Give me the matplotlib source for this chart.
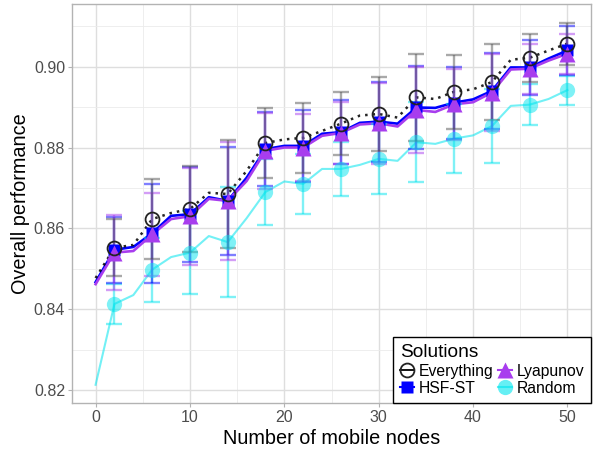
import matplotlib
matplotlib.use("Agg")
import matplotlib.pyplot as plt
from matplotlib.lines import Line2D
from matplotlib.ticker import MultipleLocator

plt.rcParams["font.family"] = ["Liberation Sans", "DejaVu Sans"]

# Mean performance at every second node count
nodes = list(range(0, 51, 2))
everything = [0.8477, 0.8552, 0.8559, 0.8623, 0.8638, 0.8648, 0.8688, 0.8685,
              0.8742, 0.8811, 0.8820, 0.8824, 0.8841, 0.8859, 0.8879, 0.8883,
              0.8874, 0.8924, 0.8920, 0.8938, 0.8944, 0.8962, 0.9017, 0.9022,
              0.9040, 0.9057]
hsf_st = [0.8467, 0.8547, 0.8554, 0.8588, 0.8631, 0.8635, 0.8677, 0.8668,
          0.8725, 0.8796, 0.8804, 0.8804, 0.8834, 0.8838, 0.8861, 0.8864,
          0.8859, 0.8899, 0.8898, 0.8911, 0.8919, 0.8940, 0.8998, 0.8998,
          0.9020, 0.9040]
lyapunov = [0.8462, 0.8540, 0.8544, 0.8585, 0.8623, 0.8630, 0.8673, 0.8668,
            0.8717, 0.8792, 0.8800, 0.8800, 0.8829, 0.8836, 0.8857, 0.8860,
            0.8852, 0.8893, 0.8888, 0.8907, 0.8912, 0.8936, 0.8993, 0.8995,
            0.9015, 0.9032]
random_sel = [0.8213, 0.8413, 0.8435, 0.8498, 0.8529, 0.8540, 0.8581, 0.8566,
              0.8625, 0.8690, 0.8716, 0.8710, 0.8747, 0.8747, 0.8757, 0.8772,
              0.8767, 0.8813, 0.8809, 0.8822, 0.8830, 0.8853, 0.8903, 0.8906,
              0.8920, 0.8942]

# Node counts that carry a point and a standard-deviation bar
marker_nodes = list(range(2, 51, 4))
everything_sd = [0.0070, 0.0099, 0.0107, 0.0134, 0.0086, 0.0087, 0.0078,
                 0.0092, 0.0108, 0.0092, 0.0094, 0.0060, 0.0052]
hsf_st_sd = [0.0082, 0.0122, 0.0118, 0.0133, 0.0092, 0.0089, 0.0080,
             0.0099, 0.0103, 0.0089, 0.0095, 0.0068, 0.0060]
lyapunov_sd = [0.0093, 0.0102, 0.0120, 0.0146, 0.0094, 0.0083, 0.0077,
               0.0100, 0.0107, 0.0088, 0.0096, 0.0062, 0.0050]
random_sd = [0.0050, 0.0079, 0.0102, 0.0136, 0.0082, 0.0074, 0.0067,
             0.0087, 0.0099, 0.0085, 0.0092, 0.0050, 0.0036]

x_ticks = [0, 10, 20, 30, 40, 50]
y_ticks = [0.82, 0.84, 0.86, 0.88, 0.90]

series = [
    # name, means, sd, colour, line style, marker style
    ("Random", random_sel, random_sd, "#00E5EE",
     dict(ls="-", lw=1.5, alpha=0.55),
     dict(marker="o", ms=11, mfc="#00E5EE", mec="none", alpha=0.5)),
    ("HSF-ST", hsf_st, hsf_st_sd, "#0000FF",
     dict(ls="-", lw=1.9),
     dict(marker="s", ms=9, mfc="#0000FF", mec="none")),
    ("Lyapunov", lyapunov, lyapunov_sd, "#A83DEE",
     dict(ls="-", lw=1.9),
     dict(marker="^", ms=12, mfc="#A83DEE", mec="none")),
    ("Everything", everything, everything_sd, "#000000",
     dict(ls=(0, (1, 2)), lw=1.8, alpha=0.85),
     dict(marker="o", ms=10, mfc="none", mec="#222222", mew=1.3)),
]

fig = plt.figure(figsize=(5.95, 4.5), dpi=100)
ax = fig.add_axes([72 / 595, 1 - 403 / 450, (591 - 72) / 595, (403 - 4) / 450])

for i, (name, means, sd, col, lstyle, mstyle) in enumerate(series):
    ax.plot(nodes, means, color=col, zorder=3 + i * 0.1, **lstyle)

for i, (name, means, sd, col, lstyle, mstyle) in enumerate(series):
    pts = [means[nodes.index(n)] for n in marker_nodes]
    ecol = "#555555" if name == "Everything" else col
    ax.errorbar(marker_nodes, pts, yerr=sd, fmt="none", ecolor=ecol,
                alpha=0.5, elinewidth=1.7, capsize=6, capthick=1.7,
                zorder=4 + i * 0.1)

for i, (name, means, sd, col, lstyle, mstyle) in enumerate(series):
    pts = [means[nodes.index(n)] for n in marker_nodes]
    ax.plot(marker_nodes, pts, ls="none", zorder=5 + i * 0.1, **mstyle)

ax.set_xlim(-2.5, 52.5)
ax.set_ylim(0.8168, 0.9155)
ax.set_xticks(x_ticks)
ax.set_yticks(y_ticks)
ax.set_yticklabels([f"{v:.2f}" for v in y_ticks])
ax.xaxis.set_minor_locator(MultipleLocator(5))
ax.yaxis.set_minor_locator(MultipleLocator(0.01))

ax.grid(which="major", color="#DEDEDE", lw=1.0)
ax.grid(which="minor", color="#EBEBEB", lw=0.6)
ax.set_axisbelow(True)
for sp in ax.spines.values():
    sp.set_color("#B3B3B3")
    sp.set_linewidth(1.0)
ax.tick_params(which="major", length=3, color="#B3B3B3", labelsize=11.5,
               labelcolor="#4D4D4D", pad=2)
ax.tick_params(which="minor", length=0)

ax.set_xlabel("Number of mobile nodes", fontsize=14.3, labelpad=3)
ax.set_ylabel("Overall performance", fontsize=14.3, labelpad=3)

# Legend keys: point with a short line through it
handles = [
    Line2D([], [], color="#000000", lw=1.3, marker="o", ms=10, mfc="none",
           mec="#222222", mew=1.3),
    Line2D([], [], color="#0000FF", lw=1.5, marker="s", ms=9, mfc="#0000FF",
           mec="none"),
    Line2D([], [], color="#A83DEE", lw=1.5, marker="^", ms=12,
           mfc="#A83DEE", mec="none"),
    Line2D([], [], color="#00E5EE", lw=1.5, alpha=0.6, marker="o", ms=11,
           mfc="#00E5EE", mec="none"),
]
labels = ["Everything", "HSF-ST", "Lyapunov", "Random"]
leg = fig.legend(handles, labels, title="Solutions", ncol=2,
                 loc="lower left", bbox_to_anchor=(393 / 595, 1 - 403 / 450),
                 bbox_transform=fig.transFigure, fontsize=11.3,
                 title_fontsize=13.8, alignment="left", frameon=True,
                 fancybox=False, edgecolor="#000000", framealpha=1,
                 borderpad=0.45, handlelength=0.9, handletextpad=0.3,
                 columnspacing=0.25, labelspacing=0.15, borderaxespad=0)
leg.get_frame().set_linewidth(1.0)
leg.set_zorder(10)

fig.savefig("out.png", dpi=100)
